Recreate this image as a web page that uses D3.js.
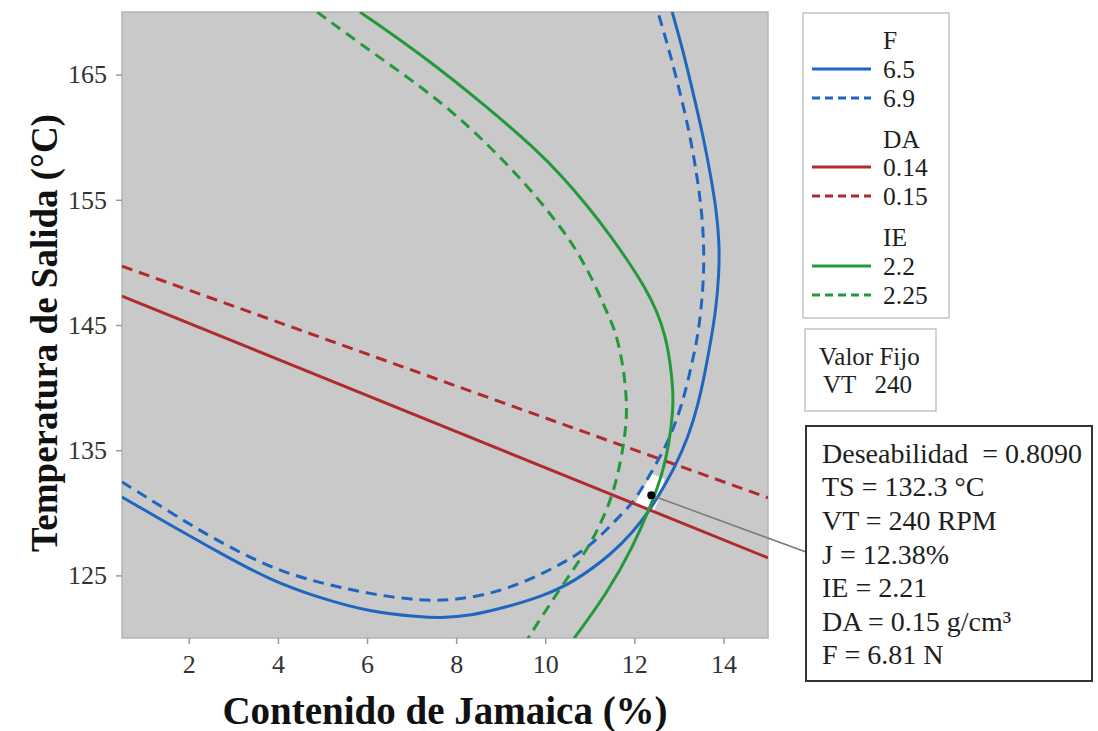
<!DOCTYPE html>
<html>
<head>
<meta charset="utf-8">
<script src="https://cdn.jsdelivr.net/npm/d3@7"></script>
<style>
  body { margin: 0; background: #fff; }
  text { font-family: "Liberation Serif", "Times New Roman", serif; fill: #1e1e1e; }
</style>
</head>
<body>
<svg width="1098" height="731"></svg>
<script>
// contour values (Contenido de Jamaica %, Temperatura de Salida °C)
var xTicks = [2, 4, 6, 8, 10, 12, 14],
    yTicks = [125, 135, 145, 155, 165];

var F65 = [[0.5,131.26],[1.58,129.03],[2.70,126.79],[3.82,124.63],[4.94,123.19],[6.07,122.08],
           [7.19,121.68],[7.64,121.6],[8.31,121.76],[9.14,122.48],[9.88,123.27],[10.62,124.39],
           [11.52,126.79],[11.97,128.47],[12.35,130.22],[12.62,131.82],[12.91,133.66],[13.21,136.05],
           [13.43,138.61],[13.59,141.25],[13.72,143.8],[13.83,146.2],[13.90,148.99],[13.91,151.55],
           [13.84,154.19],[13.72,156.82],[13.54,160.18],[13.32,163.53],[13.09,166.96],[12.85,170]];
var F69 = [[0.5,132.46],[1.58,130.06],[2.48,128.07],[3.82,125.59],[4.94,124.39],[6.07,123.51],
           [7.19,122.96],[8.09,123.04],[9.14,123.83],[10.26,125.67],[11.0,127.27],[11.52,129.19],
           [11.97,130.78],[12.24,132.38],[12.58,134.46],[12.82,136.21],[13.07,138.61],[13.25,141.25],
           [13.41,143.8],[13.50,146.2],[13.56,148.99],[13.56,151.55],[13.51,154.19],[13.41,156.82],
           [13.25,160.18],[13.03,163.53],[12.78,166.96],[12.53,170]];
var DA014 = [[0.5,147.3],[15,126.4]];
var DA015 = [[0.5,149.7],[15,131.2]];
var IE22 = [[5.84,170],[7.26,166.5],[8.70,162.4],[9.80,159.0],[10.40,156.8],[10.95,154.5],
            [11.45,152.2],[11.88,150.0],[12.24,148.0],[12.51,146.1],[12.69,144.2],[12.80,142.2],
            [12.87,139.81],[12.87,138.21],[12.78,135.42],[12.62,133.02],[12.42,131.02],[11.97,127.27],
            [11.39,123.59],[10.62,119.84]];
var IE225 = [[4.88,170],[6.13,166.73],[7.64,162.97],[8.92,158.74],[9.88,154.98],[10.56,151.79],
             [10.85,150.03],[11.12,148.2],[11.36,146.2],[11.57,144.6],[11.70,142.6],[11.79,140.61],
             [11.84,138.21],[11.79,136.21],[11.70,134.22],[11.52,131.42],[11.23,129.03],[10.94,127.03],
             [10.26,123.59],[9.59,119.84]];

var feasible = [[12.40,133.1],[12.68,132.7],[12.56,131.2],[12.43,130.0],[12.02,130.7],[12.15,131.7]];
var optimum = [12.38, 131.4];

var legendRows = [
  {label: "F"}, {label: "6.5", color: "#1f66c1", dash: null}, {label: "6.9", color: "#1f66c1", dash: true},
  {label: "DA"}, {label: "0.14", color: "#b02a2e", dash: null}, {label: "0.15", color: "#b02a2e", dash: true},
  {label: "IE"}, {label: "2.2", color: "#23993b", dash: null}, {label: "2.25", color: "#23993b", dash: true}
];
var legendY = [40, 69, 98, 139, 167, 196, 237, 266, 295];

var fixedLines = ["Valor Fijo", "VT   240"];
var resultLines = ["Deseabilidad  = 0.8090", "TS = 132.3 °C", "VT = 240 RPM", "J = 12.38%",
                   "IE = 2.21", "DA = 0.15 g/cm³", "F = 6.81 N"];

var series = [
  {pts: F65, color: "#1f66c1", dash: null},
  {pts: F69, color: "#1f66c1", dash: "11,7"},
  {pts: DA014, color: "#b02a2e", dash: null},
  {pts: DA015, color: "#b02a2e", dash: "11,7"},
  {pts: IE22, color: "#23993b", dash: null},
  {pts: IE225, color: "#23993b", dash: "11,7"}
];

var svg = d3.select("svg"),
    margin = {left: 122, top: 12, right: 330, bottom: 93},
    width = 1098 - margin.left - margin.right,
    height = 731 - margin.top - margin.bottom;

var x = d3.scaleLinear().domain([0.5, 15]).range([0, width]),
    y = d3.scaleLinear().domain([120, 170]).range([height, 0]);

var g = svg.append("g").attr("transform", "translate(" + margin.left + "," + margin.top + ")");

svg.append("defs").append("clipPath").attr("id", "plotclip")
  .append("rect").attr("width", width).attr("height", height);

g.append("rect")
  .attr("width", width).attr("height", height)
  .attr("fill", "#c9c9c9").attr("stroke", "#b4b4b4").attr("stroke-width", 1.5);

// axes
var xAxis = g.append("g").attr("transform", "translate(0," + height + ")")
  .call(d3.axisBottom(x).tickValues(xTicks).tickSize(6).tickPadding(11));
var yAxis = g.append("g")
  .call(d3.axisLeft(y).tickValues(yTicks).tickSize(6).tickPadding(9));
[xAxis, yAxis].forEach(function(a) {
  a.select(".domain").remove();
  a.selectAll("line").attr("stroke", "#999").attr("stroke-width", 1.5);
  a.selectAll("text").style("font-family", "Liberation Serif").attr("font-size", 26).style("fill", "#333");
});

var plot = g.append("g").attr("clip-path", "url(#plotclip)");

var line = d3.line()
  .x(function(d) { return x(d[0]); })
  .y(function(d) { return y(d[1]); })
  .curve(d3.curveBasis);

plot.append("path")
  .datum(feasible)
  .attr("d", d3.line().x(function(d) { return x(d[0]); }).y(function(d) { return y(d[1]); }).curve(d3.curveLinearClosed))
  .attr("fill", "#fff");

series.forEach(function(s) {
  plot.append("path")
    .datum(s.pts)
    .attr("d", line)
    .attr("fill", "none")
    .attr("stroke", s.color)
    .attr("stroke-width", 3)
    .attr("stroke-dasharray", s.dash);
});

// leader line to the result box
g.append("line")
  .attr("x1", x(optimum[0])).attr("y1", y(optimum[1]))
  .attr("x2", 806 - margin.left).attr("y2", 552 - margin.top)
  .attr("stroke", "#7a7a7a").attr("stroke-width", 1.5);

g.append("circle")
  .attr("cx", x(optimum[0])).attr("cy", y(optimum[1])).attr("r", 4)
  .attr("fill", "#000");

// axis titles
svg.append("text")
  .attr("x", 445).attr("y", 724)
  .attr("text-anchor", "middle")
  .attr("font-size", 39).attr("font-weight", "bold").style("fill", "#111")
  .text("Contenido de Jamaica (%)");

svg.append("text")
  .attr("transform", "translate(44," + (margin.top + height / 2 + 8) + ") rotate(-90)")
  .attr("text-anchor", "middle").attr("dy", "0.35em")
  .attr("font-size", 37).attr("font-weight", "bold").style("fill", "#111")
  .text("Temperatura de Salida (°C)");

// legend
svg.append("rect")
  .attr("x", 803).attr("y", 13).attr("width", 146).attr("height", 305)
  .attr("fill", "#fff").attr("stroke", "#c4c4c4").attr("stroke-width", 1.5);

var legend = svg.append("g");
legendRows.forEach(function(r, i) {
  if (r.color) {
    legend.append("line")
      .attr("x1", 812).attr("x2", 871).attr("y1", legendY[i]).attr("y2", legendY[i])
      .attr("stroke", r.color).attr("stroke-width", 3).attr("stroke-dasharray", r.dash ? "8,5" : null);
  }
  legend.append("text")
    .attr("x", 883).attr("y", legendY[i]).attr("dy", "0.35em")
    .attr("font-size", 25.5)
    .text(r.label);
});

// fixed value box
svg.append("rect")
  .attr("x", 805).attr("y", 329).attr("width", 131).attr("height", 82)
  .attr("fill", "#fff").attr("stroke", "#c4c4c4").attr("stroke-width", 1.5);
fixedLines.forEach(function(t, i) {
  svg.append("text")
    .attr("x", 819 + i * 4).attr("y", 356 + i * 28).attr("dy", "0.35em")
    .attr("font-size", 25).style("white-space", "pre")
    .text(t);
});

// result box
svg.append("rect")
  .attr("x", 806).attr("y", 426).attr("width", 286).attr("height", 255)
  .attr("fill", "#fff").attr("stroke", "#333").attr("stroke-width", 2);
resultLines.forEach(function(t, i) {
  svg.append("text")
    .attr("x", 822).attr("y", 453 + i * 33.6).attr("dy", "0.35em")
    .attr("font-size", 28).style("white-space", "pre")
    .text(t);
});
</script>
</body>
</html>
